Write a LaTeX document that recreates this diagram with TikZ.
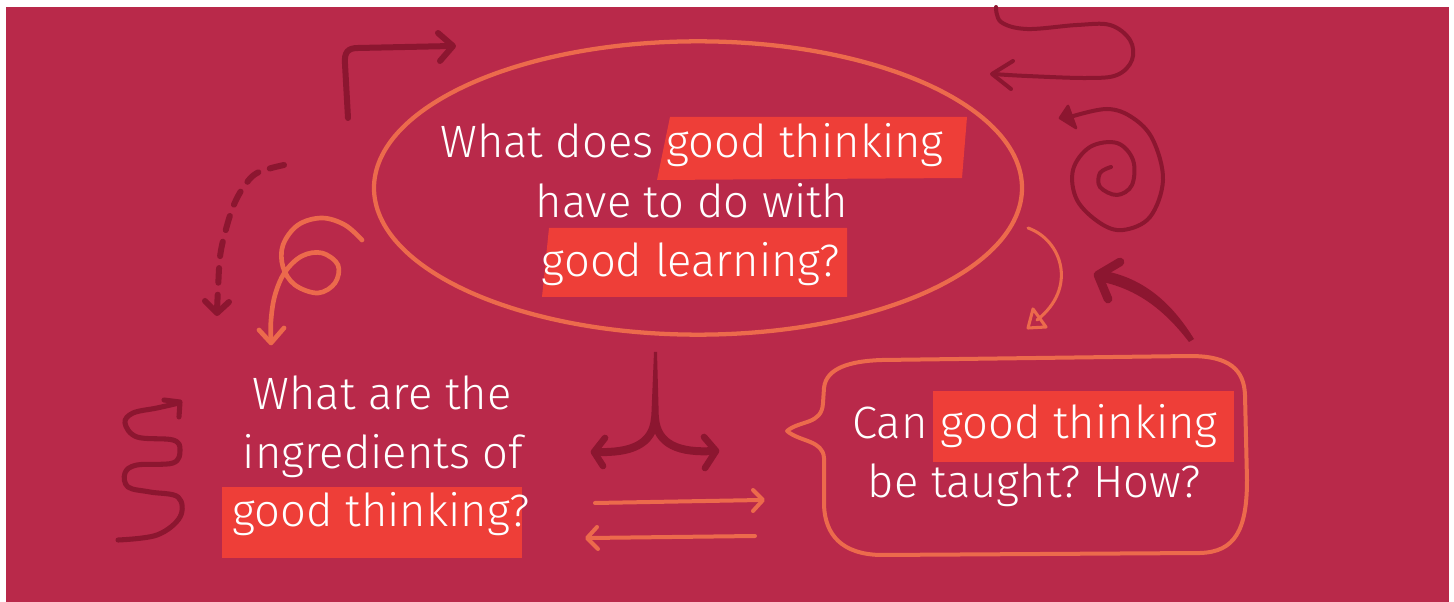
\documentclass[tikz,border=0pt]{standalone}
\usepackage{fontspec}
\setmainfont{Fira Sans Light}
\usetikzlibrary{shapes.geometric}
\definecolor{bg}{HTML}{B9294A}
\definecolor{dark}{HTML}{8C1630}
\definecolor{orng}{HTML}{EC6A4C}
\definecolor{hl}{HTML}{EE3E38}
\tikzset{
  x=0.75pt, y=-0.75pt,
  qtext/.style={text=white, font=\fontsize{34}{40}\selectfont\frenchspacing, inner sep=0pt, anchor=base},
  hlbox/.style={fill=hl},
  darkline/.style={draw=dark, line width=4.5pt, line cap=round, line join=round},
  darkthin/.style={draw=dark, line width=3pt, line cap=round, line join=round},
  orngline/.style={draw=orng, line width=3.5pt, line cap=round, line join=round},
  orngthin/.style={draw=orng, line width=2.3pt, line cap=round, line join=round},
}
\begin{document}
\begin{tikzpicture}
\useasboundingbox (0,0) rectangle (1454,602);
\fill[white] (0,0) rectangle (1454,602);
\fill[bg] (6,7) rectangle (1449,602);

% highlight boxes
\fill[hlbox] (670,117) -- (967,117) -- (962,178) -- (657,180) -- cycle;
\fill[hlbox] (549,228) -- (847,228) -- (847,297) -- (542,297) -- cycle;
\fill[hlbox] (222,487) rectangle (522,558);
\fill[hlbox] (933,391) rectangle (1234,462);

% ellipse
\node[draw=orng, line width=3.2pt, ellipse, minimum width=486pt, minimum height=220pt, inner sep=0pt] (q1) at (698,188) {};

% callout box with brace
\draw[orngline, line width=3pt] (787,431) .. controls (800,420) and (822,425) .. (823,403)
  -- (824,388) .. controls (826,368) and (850,361) .. (882,360)
  -- (1190,356) .. controls (1230,356) and (1244,370) .. (1245,395)
  -- (1247,480) .. controls (1247,530) and (1235,552) .. (1200,553)
  -- (880,555) .. controls (842,554) and (825,535) .. (824,505)
  -- (824,458) .. controls (823,440) and (800,442) .. (787,431) -- cycle;

% texts
\node[qtext] (q1a) at (692,158) {What does good thinking};
\node[qtext] (q1b) at (692,218) {have to do with};
\node[qtext] (q1c) at (691,277) {good learning?};
\node[qtext] (q2a) at (382,410) {What are the};
\node[qtext] (q2b) at (383,468) {ingredients of};
\node[qtext] (q2c) at (381,526) {good thinking?};
\node[qtext] (q3a) at (1035,439) {Can good thinking};
\node[qtext] (q3b) at (1034,498) {be taught? How?};

% top-left bent arrow
\draw[darkline] (348,118) -- (345,64) .. controls (344,52) and (348,48) .. (358,48) -- (452,46);
\draw[darkline] (438,33) -- (453,46) -- (440,61);

% dashed arrow
\draw[darkline, dash pattern=on 11pt off 9pt] plot[smooth, tension=0.6] coordinates {(284,165) (257,173) (243,188) (233,207) (225,233) (220,257) (218,290) (217,310)};
\draw[darkline] (205,301) -- (217,313) -- (229,302);

% orange loop arrow
\draw[orngline] plot[smooth, tension=0.6] coordinates {(362,240) (345,225) (322,218) (298,225) (283,245) (283,267) (295,285) (318,293) (335,283) (338,265) (322,253) (302,256) (285,272) (275,295) (271,320) (271,341)};
\draw[orngline] (259,330) -- (271,343) -- (284,328);

% top-right squiggle
\draw[darkthin] plot[smooth, tension=0.6] coordinates {(996,7) (1001,22) (1027,29) (1077,25) (1110,25) (1130,40) (1132,60) (1117,75) (1087,78) (1027,76) (993,74)};
\draw[darkthin] (1013,61) -- (992,74) -- (1011,89);

% spiral
\draw[darkthin] plot[smooth, tension=0.6] coordinates {(1070,117) (1107,109) (1133,118) (1153,140) (1163,180) (1150,217) (1123,230) (1100,223) (1077,200) (1073,170) (1090,147) (1117,143) (1133,160) (1132,185) (1117,195) (1100,187) (1100,173) (1111,167)};
\fill[dark, draw=dark, line width=2pt, line join=round] (1060,118) -- (1068,106) -- (1076,128) -- cycle;

% orange thin arrow right
\draw[orngthin] (1028,228) .. controls (1062,240) and (1078,288) .. (1037,320);
\draw[orngthin] (1028,328) -- (1033,309) -- (1046,327) -- cycle;

% big dark arrow
\fill[dark] (1194,339) .. controls (1170,300) and (1140,276) .. (1099,270)
  -- (1098,281) .. controls (1135,288) and (1163,308) .. (1189,342) -- cycle;
\draw[darkline, line width=6.5pt] (1120,262) -- (1098,275) -- (1108,299);

% left squiggle
\draw[darkline, line width=3.8pt] plot[smooth, tension=0.6] coordinates {(118,540) (157,535) (180,517) (178,497) (150,492) (128,487) (125,473) (137,465) (173,463) (180,450) (173,440) (137,437) (125,423) (133,413) (157,408) (179,403)};
\draw[darkline, line width=3.8pt] (164,400) -- (180,402) -- (179,417);

% fork arrow
\fill[dark] (654,352) -- (657,352) -- (659,424) -- (651,424) -- cycle;
\draw[darkline, line width=6pt] (655,418) .. controls (653,445) and (630,453) .. (597,452);
\draw[darkline, line width=6pt] (655,418) .. controls (657,445) and (680,453) .. (713,451);
\draw[darkline, line width=5pt] (605,438) -- (594,452) -- (603,466);
\draw[darkline, line width=5pt] (704,437) -- (716,451) -- (705,468);

% horizontal orange arrows
\draw[orngline, line width=3pt] (595,503) -- (761,500);
\draw[orngline, line width=3pt] (753,490) -- (763,500) -- (753,511);
\draw[orngline, line width=3pt] (755,536) -- (589,538);
\draw[orngline, line width=3pt] (597,527) -- (587,538) -- (598,549);
\end{tikzpicture}
\end{document}
